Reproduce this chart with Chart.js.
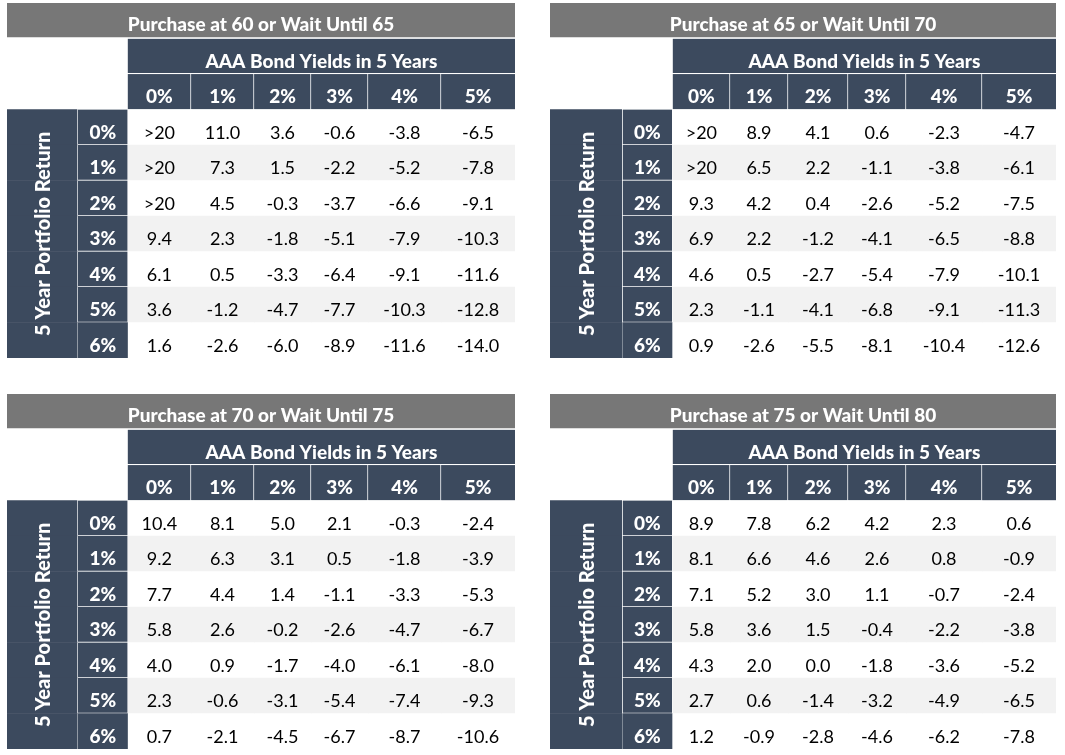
<!DOCTYPE html>
<html>
  <head>
    <title>Purchase or Wait</title>
    <style>
      html, body { margin: 0; padding: 0; background: #ffffff; }
      body { width: 1065px; height: 755px; position: relative; overflow: hidden; }
      canvas { position: absolute; }
    </style>
  </head>
  <body>
    <canvas id="t60" width="508" height="355" style="left:7px;top:3px;width:508px;height:355px"></canvas>
    <canvas id="t65" width="506" height="355" style="left:550px;top:3px;width:506px;height:355px"></canvas>
    <canvas id="t70" width="508" height="355" style="left:7px;top:394px;width:508px;height:355px"></canvas>
    <canvas id="t75" width="506" height="355" style="left:550px;top:394px;width:506px;height:355px"></canvas>

    <script src="https://cdn.jsdelivr.net/npm/chart.js"></script>
    <script>
      // Datos de las tablas
      var tableTitles = [
        "Purchase at 60 or Wait Until 65",
        "Purchase at 65 or Wait Until 70",
        "Purchase at 70 or Wait Until 75",
        "Purchase at 75 or Wait Until 80",
      ];
      var bandTitle = "AAA Bond Yields in 5 Years";
      var sideTitle = "5 Year Portfolio Return";
      var bondYields = ["0%", "1%", "2%", "3%", "4%", "5%"];
      var portfolioReturns = ["0%", "1%", "2%", "3%", "4%", "5%", "6%"];

      var wait60to65 = [
        [">20", "11.0", "3.6", "-0.6", "-3.8", "-6.5"],
        [">20", "7.3", "1.5", "-2.2", "-5.2", "-7.8"],
        [">20", "4.5", "-0.3", "-3.7", "-6.6", "-9.1"],
        ["9.4", "2.3", "-1.8", "-5.1", "-7.9", "-10.3"],
        ["6.1", "0.5", "-3.3", "-6.4", "-9.1", "-11.6"],
        ["3.6", "-1.2", "-4.7", "-7.7", "-10.3", "-12.8"],
        ["1.6", "-2.6", "-6.0", "-8.9", "-11.6", "-14.0"],
      ];
      var wait65to70 = [
        [">20", "8.9", "4.1", "0.6", "-2.3", "-4.7"],
        [">20", "6.5", "2.2", "-1.1", "-3.8", "-6.1"],
        ["9.3", "4.2", "0.4", "-2.6", "-5.2", "-7.5"],
        ["6.9", "2.2", "-1.2", "-4.1", "-6.5", "-8.8"],
        ["4.6", "0.5", "-2.7", "-5.4", "-7.9", "-10.1"],
        ["2.3", "-1.1", "-4.1", "-6.8", "-9.1", "-11.3"],
        ["0.9", "-2.6", "-5.5", "-8.1", "-10.4", "-12.6"],
      ];
      var wait70to75 = [
        ["10.4", "8.1", "5.0", "2.1", "-0.3", "-2.4"],
        ["9.2", "6.3", "3.1", "0.5", "-1.8", "-3.9"],
        ["7.7", "4.4", "1.4", "-1.1", "-3.3", "-5.3"],
        ["5.8", "2.6", "-0.2", "-2.6", "-4.7", "-6.7"],
        ["4.0", "0.9", "-1.7", "-4.0", "-6.1", "-8.0"],
        ["2.3", "-0.6", "-3.1", "-5.4", "-7.4", "-9.3"],
        ["0.7", "-2.1", "-4.5", "-6.7", "-8.7", "-10.6"],
      ];
      var wait75to80 = [
        ["8.9", "7.8", "6.2", "4.2", "2.3", "0.6"],
        ["8.1", "6.6", "4.6", "2.6", "0.8", "-0.9"],
        ["7.1", "5.2", "3.0", "1.1", "-0.7", "-2.4"],
        ["5.8", "3.6", "1.5", "-0.4", "-2.2", "-3.8"],
        ["4.3", "2.0", "0.0", "-1.8", "-3.6", "-5.2"],
        ["2.7", "0.6", "-1.4", "-3.2", "-4.9", "-6.5"],
        ["1.2", "-0.9", "-2.8", "-4.6", "-6.2", "-7.8"],
      ];

      // Disposición (en unidades del eje x, una por píxel)
      var leftLayout = { w: 508, side: [0, 70], label: [71, 120.5], cols: [120.7, 184, 247, 304, 361, 434, 508] };
      var rightLayout = { w: 506, side: [0, 71.7], label: [72.7, 122], cols: [122.7, 180, 238, 298, 356, 432, 506] };

      var GRAY = "#777777";
      var NAVY = "#3c4a5e";
      var STRIPE = "#f2f2f2";
      var FONT = "Lato, 'Open Sans', sans-serif";
      var BOLD = "900 19px " + FONT;
      var SIDE = "900 20px " + FONT;
      var PLAIN = "18px " + FONT;

      // Plugin para escribir el texto de cada celda
      var cellTextPlugin = {
        id: "cellText",
        afterDatasetsDraw: function (chart) {
          var ctx = chart.ctx;
          chart.data.datasets.forEach(function (ds, di) {
            var meta = chart.getDatasetMeta(di);
            ctx.save();
            ctx.textAlign = "center";
            ctx.textBaseline = "alphabetic";
            if (ds.spanText) {
              var top = Infinity, bottom = -Infinity, cx = 0;
              meta.data.forEach(function (el, i) {
                if (ds.data[i] == null) return;
                var p = el.getProps(["x", "y", "base", "height"], true);
                top = Math.min(top, p.y - p.height / 2);
                bottom = Math.max(bottom, p.y + p.height / 2);
                cx = (p.x + p.base) / 2;
              });
              ctx.font = SIDE;
              ctx.fillStyle = "#ffffff";
              ctx.translate(cx + 8, (top + bottom) / 2);
              ctx.rotate(-Math.PI / 2);
              ctx.fillText(ds.spanText, 0, 0);
            }
            if (ds.cellText) {
              meta.data.forEach(function (el, i) {
                var txt = ds.cellText[i];
                if (txt == null || ds.data[i] == null) return;
                var p = el.getProps(["x", "y", "base", "height"], true);
                var isData = i > 2 && ds.dataText;
                ctx.font = isData ? PLAIN : BOLD;
                ctx.fillStyle = isData ? "#000000" : "#ffffff";
                ctx.fillText(txt, (p.x + p.base) / 2, p.y + p.height / 2 - (i === 0 ? 8 : 6.5));
              });
            }
            ctx.restore();
          });
        },
      };

      function buildTable(canvasId, title, values, lay) {
        var rows = ["title", "band", "head"].concat(portfolioReturns);
        var n = rows.length;
        function blank() {
          return rows.map(function () { return null; });
        }
        var datasets = [];

        var titleData = blank(), titleText = blank();
        titleData[0] = [0, lay.w];
        titleText[0] = title;
        datasets.push({ data: titleData, cellText: titleText,
          backgroundColor: GRAY, borderColor: "#ffffff", borderWidth: { top: 0, left: 0, right: 0, bottom: 1.5 } });

        var bandData = blank(), bandText = blank();
        bandData[1] = [lay.cols[0], lay.w];
        bandText[1] = bandTitle;
        datasets.push({ data: bandData, cellText: bandText,
          backgroundColor: NAVY, borderColor: "#ffffff", borderWidth: { top: 0, left: 0, right: 0, bottom: 1.3 } });

        var sideData = blank();
        var labelData = blank(), labelText = blank();
        portfolioReturns.forEach(function (r, k) {
          sideData[k + 3] = lay.side.slice();
          labelData[k + 3] = lay.label.slice();
          labelText[k + 3] = r;
        });
        datasets.push({ data: sideData, spanText: sideTitle,
          backgroundColor: NAVY, borderWidth: 0 });
        datasets.push({ data: labelData, cellText: labelText,
          backgroundColor: NAVY, borderColor: "#ffffff",
          borderWidth: function (c) {
            return { top: 0, left: 0, right: 0, bottom: c.dataIndex < n - 1 ? 1 : 0 };
          } });

        bondYields.forEach(function (y, j) {
          var colData = blank(), colText = blank();
          var span = [lay.cols[j], lay.cols[j + 1]];
          colData[2] = span.slice();
          colText[2] = y;
          values.forEach(function (row, k) {
            colData[k + 3] = span.slice();
            colText[k + 3] = row[j];
          });
          datasets.push({ data: colData, cellText: colText, dataText: true,
            backgroundColor: function (c) {
              if (c.dataIndex === 2) return NAVY;
              return (c.dataIndex - 3) % 2 === 1 ? STRIPE : "#ffffff";
            },
            borderColor: "#ffffff",
            borderWidth: function (c) {
              if (c.dataIndex !== 2) return 0;
              return { top: 0, left: 0, right: j < bondYields.length - 1 ? 1 : 0, bottom: 0 };
            } });
        });

        new Chart(document.getElementById(canvasId), {
          type: "bar",
          data: { labels: rows, datasets: datasets },
          options: {
            indexAxis: "y",
            responsive: false,
            animation: false,
            grouped: false,
            barPercentage: 1,
            categoryPercentage: 1,
            borderSkipped: false,
            layout: { padding: 0 },
            plugins: { legend: { display: false }, tooltip: { enabled: false } },
            scales: {
              x: { type: "linear", min: 0, max: lay.w, display: false },
              y: { type: "category", display: false },
            },
          },
          plugins: [cellTextPlugin],
        });
      }

      buildTable("t60", tableTitles[0], wait60to65, leftLayout);
      buildTable("t65", tableTitles[1], wait65to70, rightLayout);
      buildTable("t70", tableTitles[2], wait70to75, leftLayout);
      buildTable("t75", tableTitles[3], wait75to80, rightLayout);
    </script>
  </body>
</html>
